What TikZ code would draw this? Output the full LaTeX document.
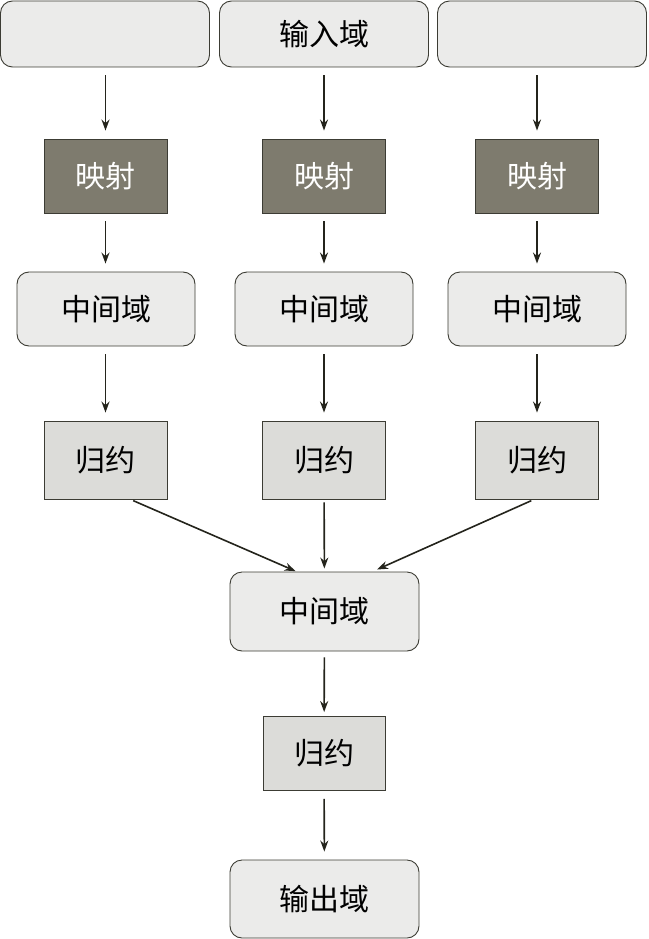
\documentclass[tikz,border=0pt]{standalone}
\usepackage{fontspec}
\usepackage{xcolor}
\usepackage{tikz}
\newfontfamily\cjk{Noto Sans CJK SC}
\usetikzlibrary{arrows.meta,positioning}
\definecolor{domfill}{HTML}{EBEBEA}
\definecolor{mapfill}{HTML}{7E7B6E}
\definecolor{redfill}{HTML}{DCDCD9}
\definecolor{edgec}{HTML}{3C3C34}
\definecolor{arrc}{HTML}{24241C}

\begin{document}
\begin{tikzpicture}[x=1pt,y=-1pt, every node/.style={font=\cjk\fontsize{30}{33}\selectfont},
  dom/.style={draw=edgec,fill=domfill,rounded corners=12pt,line width=0.9pt,inner sep=0pt,minimum width=178pt,minimum height=74pt},
  mapbox/.style={draw=edgec,fill=mapfill,text=white,line width=0.9pt,inner sep=0pt,minimum width=123pt,minimum height=74pt},
  redbox/.style={draw=edgec,fill=redfill,line width=0.9pt,inner sep=0pt,minimum width=123pt,minimum height=78pt},
  arr/.style={-{Stealth[length=11pt,width=8pt]},draw=arrc,fill=arrc,line width=1.6pt,shorten <=8pt,shorten >=8pt}]
  \useasboundingbox (0,0) rectangle (648,939);

  \node[dom,minimum width=209pt,minimum height=66pt] (in1) at (105,34) {};
  \node[dom,minimum width=209pt,minimum height=66pt] (in2) at (324,34) {输入域};
  \node[dom,minimum width=209pt,minimum height=66pt] (in3) at (542,34) {};

  \node[mapbox] (m1) at (105.5,176) {映射};
  \node[mapbox] (m2) at (324,176) {映射};
  \node[mapbox] (m3) at (537,176) {映射};

  \node[dom] (mid1) at (106,309) {中间域};
  \node[dom] (mid2) at (324,309) {中间域};
  \node[dom] (mid3) at (537,309) {中间域};

  \node[redbox] (r1) at (105.5,460) {归约};
  \node[redbox] (r2) at (324,460) {归约};
  \node[redbox] (r3) at (537,460) {归约};

  \node[dom,minimum width=189pt,minimum height=79pt] (mid) at (324.5,611.5) {中间域};
  \node[redbox,minimum width=122pt,minimum height=74pt] (rf) at (324,753.5) {归约};
  \node[dom,minimum width=189pt,minimum height=78pt] (out) at (324.5,899) {输出域};

  \draw[arr] (in1.south -| m1) -- (m1);
  \draw[arr] (in2.south -| m2) -- (m2);
  \draw[arr] (in3.south -| m3) -- (m3);
  \draw[arr] (m1) -- (mid1.north -| m1);
  \draw[arr] (m2) -- (mid2.north -| m2);
  \draw[arr] (m3) -- (mid3.north -| m3);
  \draw[arr] (mid1.south -| r1) -- (r1);
  \draw[arr] (mid2.south -| r2) -- (r2);
  \draw[arr] (mid3.south -| r3) -- (r3);

  \draw[arr,shorten <=3pt,shorten >=1pt] ([xshift=25pt]r1.south) -- ([xshift=-28pt]mid.north);
  \draw[arr,shorten <=3pt,shorten >=3pt] (r2) -- (mid);
  \draw[arr,shorten <=3pt,shorten >=5pt] ([xshift=-3pt]r3.south) -- ([xshift=48pt]mid.north);

  \draw[arr,shorten <=6pt,shorten >=4pt] (mid) -- (rf);
  \draw[arr] (rf) -- (out);
\end{tikzpicture}
\end{document}
